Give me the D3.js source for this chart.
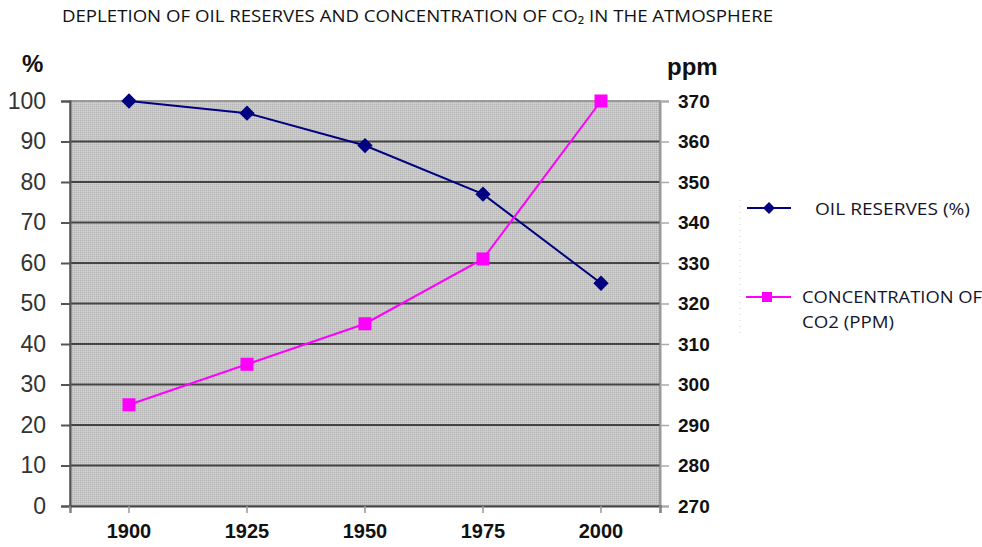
<!DOCTYPE html>
<html>
<head>
<meta charset="utf-8">
<script src="https://cdn.jsdelivr.net/npm/d3@7"></script>
<style>
  body { margin: 0; background: #fff; }
  svg { display: block; }
</style>
</head>
<body>
<div id="chart"></div>
<script>
// values
var years = ['1900', '1925', '1950', '1975', '2000'];
var oilReserves = [100, 97, 89, 77, 55];
var co2Ppm = [295, 305, 315, 331, 370];
var leftTicks = [0, 10, 20, 30, 40, 50, 60, 70, 80, 90, 100];
var rightTicks = [270, 280, 290, 300, 310, 320, 330, 340, 350, 360, 370];

var width = 982, height = 547;
var plot = { left: 70, right: 660, top: 101, bottom: 506 };
var navy = '#000080';
var magenta = '#ff00ff';

var svg = d3.select('#chart').append('svg')
  .attr('width', width)
  .attr('height', height);

// dotted grey texture of the plot area
var defs = svg.append('defs');
var pat = defs.append('pattern')
  .attr('id', 'dots')
  .attr('width', 2).attr('height', 2)
  .attr('patternUnits', 'userSpaceOnUse');
pat.append('rect').attr('width', 2).attr('height', 2).attr('fill', '#c6c6c6');
pat.append('rect').attr('width', 1).attr('height', 1).attr('fill', '#b6b6b6');
pat.append('rect').attr('x', 1).attr('y', 1).attr('width', 1).attr('height', 1).attr('fill', '#d2d2d2');

var x = d3.scaleBand()
  .domain(years)
  .range([plot.left, plot.right]);
var yLeft = d3.scaleLinear()
  .domain([0, 100])
  .range([plot.bottom, plot.top]);
var yRight = d3.scaleLinear()
  .domain([270, 370])
  .range([plot.bottom, plot.top]);

svg.append('rect')
  .attr('x', plot.left)
  .attr('y', plot.top)
  .attr('width', plot.right - plot.left)
  .attr('height', plot.bottom - plot.top)
  .attr('fill', 'url(#dots)')
  .attr('stroke', '#9a9a9a')
  .attr('stroke-width', 2);

// horizontal grid
svg.selectAll('line.grid')
    .data(leftTicks.slice(1, -1))
  .enter().append('line')
    .attr('class', 'grid')
    .attr('x1', plot.left)
    .attr('x2', plot.right)
    .attr('y1', function(d) { return yLeft(d); })
    .attr('y2', function(d) { return yLeft(d); })
    .attr('stroke', '#444')
    .attr('stroke-width', 2);

// left axis
var leftAxis = svg.append('g')
  .attr('transform', 'translate(' + plot.left + ',0)')
  .call(d3.axisLeft(yLeft).tickValues(leftTicks).tickSize(9).tickPadding(15));
leftAxis.select('.domain').attr('stroke', '#555').attr('stroke-width', 2);
leftAxis.selectAll('.tick line').attr('stroke', '#555').attr('stroke-width', 2);
leftAxis.selectAll('.tick text')
  .attr('font-family', 'Liberation Sans, Arial, sans-serif')
  .attr('font-size', '23px')
  .attr('fill', '#333');

// right axis
var rightAxis = svg.append('g')
  .attr('transform', 'translate(' + plot.right + ',0)')
  .call(d3.axisRight(yRight).tickValues(rightTicks).tickSize(9).tickPadding(9));
rightAxis.select('.domain').attr('stroke', '#9a9a9a').attr('stroke-width', 2);
rightAxis.selectAll('.tick line').attr('stroke', '#aaa').attr('stroke-width', 1.5);
rightAxis.selectAll('.tick text')
  .attr('font-family', 'Liberation Sans, Arial, sans-serif')
  .attr('font-weight', 'bold')
  .attr('font-size', '19px')
  .attr('fill', '#111');

// bottom axis
var bottomAxis = svg.append('g')
  .attr('transform', 'translate(0,' + plot.bottom + ')')
  .call(d3.axisBottom(x).tickSize(7).tickPadding(11));
bottomAxis.select('.domain').attr('stroke', '#444').attr('stroke-width', 2);
bottomAxis.selectAll('.tick line').attr('stroke', '#999').attr('stroke-width', 1.5);
bottomAxis.selectAll('.tick text')
  .attr('font-family', 'Liberation Sans, Arial, sans-serif')
  .attr('font-weight', 'bold')
  .attr('font-size', '20px')
  .attr('fill', '#111');
bottomAxis.selectAll('line.edge')
    .data([plot.left, plot.right])
  .enter().append('line')
    .attr('class', 'edge')
    .attr('x1', function(d) { return d; })
    .attr('x2', function(d) { return d; })
    .attr('y1', 0).attr('y2', 7)
    .attr('stroke', '#999').attr('stroke-width', 1.5);

var cx = function(d, i) { return x(years[i]) + x.bandwidth() / 2; };

// oil reserves line
var oilLine = d3.line()
  .x(cx)
  .y(function(d) { return yLeft(d); });
svg.append('path')
  .datum(oilReserves)
  .attr('d', oilLine)
  .attr('fill', 'none')
  .attr('stroke', navy)
  .attr('stroke-width', 2);
svg.selectAll('path.oil')
    .data(oilReserves)
  .enter().append('path')
    .attr('class', 'oil')
    .attr('d', d3.symbol().type(d3.symbolDiamond2).size(150))
    .attr('transform', function(d, i) { return 'translate(' + cx(d, i) + ',' + yLeft(d) + ')'; })
    .attr('fill', navy);

// co2 line
var co2Line = d3.line()
  .x(cx)
  .y(function(d) { return yRight(d); });
svg.append('path')
  .datum(co2Ppm)
  .attr('d', co2Line)
  .attr('fill', 'none')
  .attr('stroke', magenta)
  .attr('stroke-width', 2);
svg.selectAll('rect.co2')
    .data(co2Ppm)
  .enter().append('rect')
    .attr('class', 'co2')
    .attr('x', function(d, i) { return cx(d, i) - 6.5; })
    .attr('y', function(d) { return yRight(d) - 6.5; })
    .attr('width', 13)
    .attr('height', 13)
    .attr('fill', magenta);

// titles
svg.append('text')
  .attr('x', 62).attr('y', 22)
  .attr('font-family', 'Open Sans, sans-serif')
  .attr('font-size', '16.5px')
  .attr('fill', '#111')
  .attr('textLength', 711)
  .attr('lengthAdjust', 'spacingAndGlyphs')
  .text('DEPLETION OF OIL RESERVES AND CONCENTRATION OF CO\u2082 IN THE ATMOSPHERE');

svg.append('text')
  .attr('x', 22).attr('y', 72)
  .attr('font-family', 'Liberation Sans, Arial, sans-serif')
  .attr('font-weight', 'bold')
  .attr('font-size', '24px')
  .attr('fill', '#111')
  .text('%');

svg.append('text')
  .attr('x', 667).attr('y', 75)
  .attr('font-family', 'Liberation Sans, Arial, sans-serif')
  .attr('font-weight', 'bold')
  .attr('font-size', '24px')
  .attr('fill', '#111')
  .text('ppm');

// legend
var legend = svg.append('g');
legend.append('line')
  .attr('x1', 740).attr('x2', 740)
  .attr('y1', 200).attr('y2', 336)
  .attr('stroke', '#ccc')
  .attr('stroke-dasharray', '1,5');

legend.append('line')
  .attr('x1', 747).attr('x2', 791)
  .attr('y1', 208).attr('y2', 208)
  .attr('stroke', navy).attr('stroke-width', 2);
legend.append('path')
  .attr('d', d3.symbol().type(d3.symbolDiamond2).size(90))
  .attr('transform', 'translate(769,208)')
  .attr('fill', navy);
legend.append('text')
  .attr('x', 815).attr('y', 215)
  .attr('font-family', 'Open Sans, sans-serif')
  .attr('font-size', '17px')
  .attr('fill', '#15152a')
  .attr('textLength', 155)
  .attr('lengthAdjust', 'spacingAndGlyphs')
  .text('OIL RESERVES (%)');

legend.append('line')
  .attr('x1', 746).attr('x2', 791)
  .attr('y1', 297).attr('y2', 297)
  .attr('stroke', magenta).attr('stroke-width', 2);
legend.append('rect')
  .attr('x', 762).attr('y', 292)
  .attr('width', 10).attr('height', 10)
  .attr('fill', magenta);
legend.append('text')
  .attr('x', 802).attr('y', 303)
  .attr('font-family', 'Open Sans, sans-serif')
  .attr('font-size', '17px')
  .attr('fill', '#15152a')
  .attr('textLength', 180)
  .attr('lengthAdjust', 'spacingAndGlyphs')
  .text('CONCENTRATION OF');
legend.append('text')
  .attr('x', 802).attr('y', 328)
  .attr('font-family', 'Open Sans, sans-serif')
  .attr('font-size', '17px')
  .attr('fill', '#15152a')
  .attr('textLength', 92)
  .attr('lengthAdjust', 'spacingAndGlyphs')
  .text('CO2 (PPM)');
</script>
</body>
</html>
